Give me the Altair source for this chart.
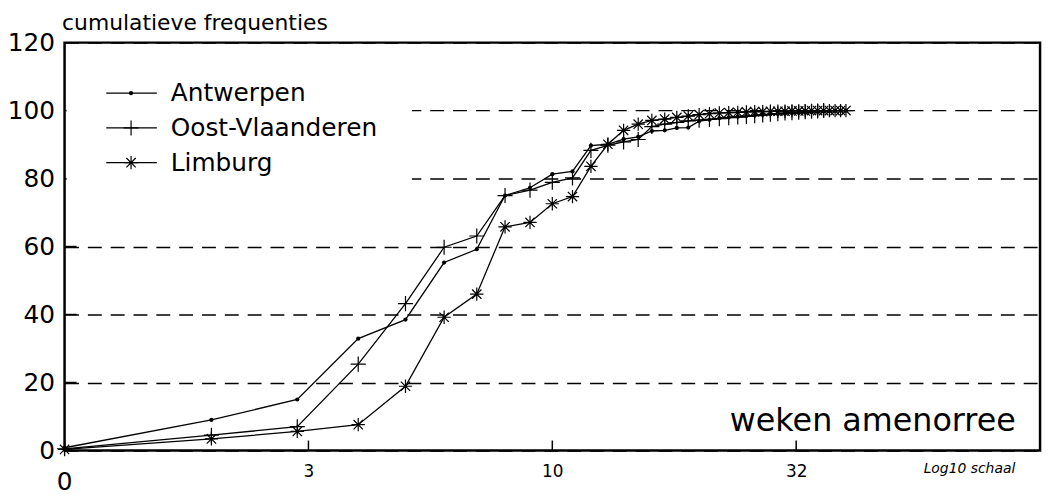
import altair as alt
import pandas as pd

# ---- data ----
series_names = ["Antwerpen", "Oost-Vlaanderen", "Limburg"]

weeks_antwerpen = [1, 2, 3, 4, 5, 6, 7, 8, 9, 10, 11, 12, 13, 14, 15, 16, 17, 18, 19, 20,
                   21, 22, 23, 24, 25, 26, 27, 28, 29, 30, 31, 32, 33, 34, 35, 36, 37, 38, 39, 40]
antwerpen = [0.8, 9.0, 15.0, 32.9, 38.5, 55.3, 59.2, 75.0, 77.3, 81.3, 82.1, 89.7, 90.1, 91.6, 92.3,
             94.0, 94.2, 94.9, 95.0, 96.9, 97.3, 97.8, 98.0, 98.2, 98.4, 98.6, 98.8, 98.9, 99.0, 99.1,
             99.2, 99.3, 99.4, 99.5, 99.6, 99.7, 99.8, 99.9, 100.0, 100.0]

weeks_oost = [1, 2, 3, 4, 5, 6, 7, 8, 9, 10, 11, 12, 13, 14, 15, 16, 17, 18, 19, 20,
              21, 22, 23, 24, 25, 26, 27, 28, 29, 30, 31, 32, 33, 34, 35, 36]
oost = [0.5, 4.5, 7.0, 25.4, 43.2, 59.8, 63.1, 75.0, 76.6, 78.9, 80.2, 88.3, 89.8, 90.8, 91.5,
        95.3, 96.0, 96.5, 97.0, 97.2, 97.4, 97.6, 97.9, 98.1, 98.3, 98.5, 98.7, 98.9, 99.1, 99.3,
        99.4, 99.5, 99.7, 99.8, 99.9, 100.0]

weeks_limburg = [1, 2, 3, 4, 5, 6, 7, 8, 9, 10, 11, 12, 13, 14, 15, 16, 17, 18, 19, 20,
                 21, 22, 23, 24, 25, 26, 27, 28, 29, 30, 31, 32, 33, 34, 35, 36, 37, 38, 39, 40]
limburg = [0.3, 3.4, 5.6, 7.6, 18.9, 39.2, 46.0, 65.8, 67.1, 72.6, 74.7, 83.6, 90.1, 94.2, 96.0,
           97.1, 97.5, 98.0, 98.4, 98.8, 99.1, 99.3, 99.4, 99.5, 99.6, 99.7, 99.7, 99.8, 99.8, 99.8,
           99.9, 99.9, 99.9, 100.0, 100.0, 100.0, 100.0, 100.0, 100.0, 100.0]

xtick_values = [1, 3.1623, 10, 31.623]
xtick_labels = ["0", "3", "10", "32"]
ytick_values = [0, 20, 40, 60, 80, 100, 120]

# ---- tables ----
rows = []
for name, wk, vals in [(series_names[0], weeks_antwerpen, antwerpen),
                       (series_names[1], weeks_oost, oost),
                       (series_names[2], weeks_limburg, limburg)]:
    for w, v in zip(wk, vals):
        rows.append({"series": name, "week": w, "freq": v})
df = pd.DataFrame(rows)

xt_df = pd.DataFrame({"week": xtick_values[1:]})
x0_df = pd.DataFrame({"week": xtick_values[:1], "label": xtick_labels[:1]})
yt_df = pd.DataFrame({"freq": [v for v in ytick_values if 0 < v < 120]})
one = pd.DataFrame({"k": [0]})

W, H = 983, 411
FONT = "DejaVu Sans"
PLUS = "M-1,0L1,0M0,-1L0,1"
STAR = "M-1,0L1,0M0,-1L0,1M-0.7,-0.7L0.7,0.7M-0.7,0.7L0.7,-0.7"

xscale = alt.Scale(type="log", domain=[1, 100], nice=False)
yscale = alt.Scale(domain=[0, 120], nice=False)

xaxis = alt.Axis(values=xtick_values[1:], labelExpr="format(datum.value, '.0f')",
                 labelFontSize=17, labelPadding=13, ticks=False, tickSize=0,
                 domain=False, grid=False,
                 title="weken amenorree", titleX=958, titleY=-20,
                 titleAlign="right", titleBaseline="alphabetic",
                 titleFontSize=32, titleFontWeight="normal")
yaxis = alt.Axis(values=ytick_values, labelFontSize=25, labelPadding=10,
                 ticks=False, tickSize=0, domain=False,
                 grid=True, gridDash=[14, 9], gridColor="black", gridWidth=1.4, gridOpacity=1,
                 title="cumulatieve frequenties", titleAngle=0, titleAlign="left",
                 titleBaseline="alphabetic", titleX=-3, titleY=-13,
                 titleFontSize=22, titleFontWeight="normal")

X = alt.X("week:Q", scale=xscale, axis=xaxis)
Y = alt.Y("freq:Q", scale=yscale, axis=yaxis)

base = alt.Chart(df)

lines = base.mark_line(color="black", strokeWidth=1.3).encode(x=X, y=Y, detail="series:N")

dots = base.transform_filter(alt.datum.series == series_names[0]).mark_circle(
    size=18, color="black", opacity=1).encode(x=X, y=Y)
pluses = base.transform_filter(alt.datum.series == series_names[1]).mark_point(
    shape=PLUS, size=230, filled=False, color="black", strokeWidth=1.2, opacity=1).encode(x=X, y=Y)
stars = base.transform_filter(alt.datum.series == series_names[2]).mark_point(
    shape=STAR, size=180, filled=False, color="black", strokeWidth=1.2, opacity=1).encode(x=X, y=Y)

# inward tick marks
xticks = alt.Chart(xt_df).mark_rule(color="black", strokeWidth=1.5).encode(
    x=X, y=alt.value(H), y2=alt.value(H - 10))
yticks = alt.Chart(yt_df).mark_rule(color="black", strokeWidth=1.5).encode(
    y=Y, x=alt.value(0), x2=alt.value(12))

x0_label = alt.Chart(x0_df).mark_text(fontSize=25, font=FONT, baseline="top", align="center",
                                      color="black").encode(
    x=X, y=alt.value(H + 20), text="label:N")

log_note = alt.Chart(one).mark_text(text="Log10 schaal", fontSize=14, font=FONT, fontStyle="italic",
                                    align="right", baseline="alphabetic", color="black").encode(
    x=alt.value(958), y=alt.value(H + 23))

# legend
legend_bg = alt.Chart(one).mark_rect(color="white").encode(
    x=alt.value(2), x2=alt.value(350), y=alt.value(14), y2=alt.value(150))
legend_layers = [legend_bg]
shapes = [None, PLUS, STAR]
sizes = [18, 230, 180]
for i, name in enumerate(series_names):
    yy = 51 + 35 * i
    legend_layers.append(alt.Chart(one).mark_rule(color="black", strokeWidth=1.3).encode(
        x=alt.value(42), x2=alt.value(93), y=alt.value(yy)))
    if shapes[i] is None:
        legend_layers.append(alt.Chart(one).mark_circle(size=sizes[i], color="black", opacity=1).encode(
            x=alt.value(67), y=alt.value(yy)))
    else:
        legend_layers.append(alt.Chart(one).mark_point(shape=shapes[i], size=sizes[i], filled=False,
                                                       color="black", strokeWidth=1.2, opacity=1).encode(
            x=alt.value(67), y=alt.value(yy)))
    legend_layers.append(alt.Chart(one).mark_text(text=name, fontSize=25, font=FONT, align="left",
                                                  baseline="middle", color="black").encode(
        x=alt.value(107), y=alt.value(yy)))

chart = alt.layer(lines, dots, pluses, stars, xticks, yticks, x0_label, log_note, *legend_layers).properties(
    width=W, height=H,
    autosize=alt.AutoSizeParams(type="none"),
    padding={"left": 57, "top": 33, "right": 7, "bottom": 45},
    background="white",
).configure_view(stroke="black", strokeWidth=2.5).configure_axis(
    labelFont=FONT, titleFont=FONT, labelColor="black", titleColor="black"
)

chart.save("out.html", embed_options={"renderer": "svg", "actions": False})
